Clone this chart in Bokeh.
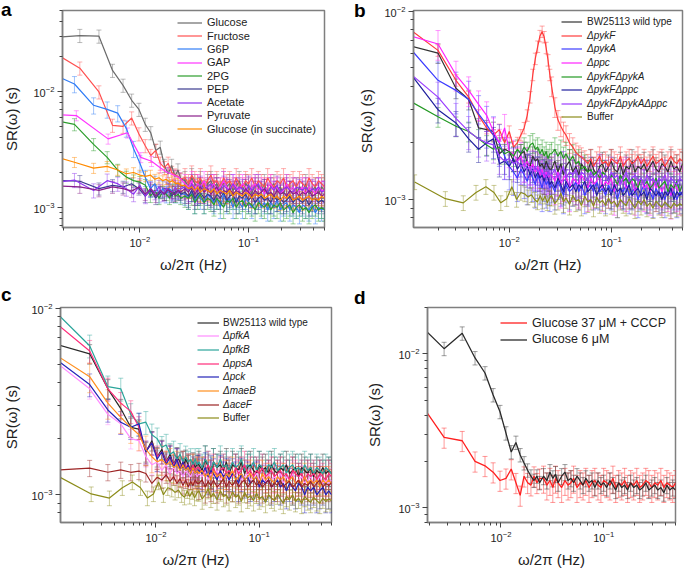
import numpy as np
from bokeh.plotting import figure
from bokeh.models import (ColumnDataSource, Whisker, TeeHead, Legend, LegendItem,
                          Range1d, FixedTicker, Div)
from bokeh.layouts import row, column
from bokeh.embed import file_html
from bokeh.resources import INLINE

FONT = "Liberation Sans"

# ---------------- frequency grids (Hz) ----------------
F14 = [0.0014, 0.0028, 0.0042, 0.0056, 0.0070, 0.0084, 0.0098, 0.0112, 0.0126,
       0.0140, 0.0154, 0.0168, 0.0182, 0.0196, 0.0210, 0.0224, 0.0238]
F125 = [0.00125, 0.0025, 0.00375, 0.0050, 0.00625, 0.0075, 0.00875, 0.0100, 0.01125,
        0.0125, 0.01375, 0.0150, 0.01625, 0.0175, 0.01875, 0.0200, 0.02125, 0.0225, 0.02375]
F256 = [0.0013, 0.0026, 0.0051, 0.0077, 0.0102, 0.0128, 0.0154, 0.0179, 0.0205, 0.0230]
F10 = [0.001, 0.002, 0.003, 0.004, 0.005, 0.006, 0.007, 0.008, 0.009, 0.010, 0.011, 0.012,
       0.013, 0.014, 0.015, 0.016, 0.017, 0.018, 0.019, 0.020, 0.021, 0.022, 0.023, 0.024, 0.025]
F114 = [0.00114, 0.00228, 0.00342, 0.00456, 0.0057, 0.00684, 0.00798, 0.00912, 0.01026,
        0.0114, 0.01254, 0.01368, 0.01482, 0.01596, 0.0171, 0.01824, 0.01938, 0.02052,
        0.02166, 0.0228, 0.02394, 0.02508]
BUF_F = [0.00118, 0.00236, 0.00354, 0.00472, 0.0059, 0.00708, 0.00826, 0.00944, 0.0106,
         0.0118, 0.0130, 0.0142, 0.0153, 0.0165, 0.0177, 0.0189, 0.0201, 0.0212, 0.0224,
         0.0236, 0.0248]
BAND_F = [0.026, 0.028, 0.030, 0.032, 0.034, 0.036, 0.039, 0.042, 0.045,
          0.048, 0.051, 0.055, 0.059, 0.063, 0.067, 0.072, 0.077, 0.082,
          0.088, 0.094, 0.100, 0.107, 0.115, 0.123, 0.131, 0.140, 0.150,
          0.160, 0.171, 0.183, 0.196, 0.210, 0.224, 0.240, 0.257, 0.275,
          0.294, 0.314, 0.336, 0.360, 0.385, 0.412, 0.440, 0.470, 0.500]

# axis tick positions (powers of ten and their 2..9 multiples)
MAJOR_TICKS = [1e-4, 1e-3, 1e-2, 1e-1, 1.0]
MINOR_TICKS = [m * 10.0 ** e for e in range(-4, 0) for m in range(2, 10)]

# ---------------- panel a values (ms) ----------------
A_LABELS = ["Glucose", "Fructose", "G6P", "GAP", "2PG", "PEP", "Acetate", "Pyruvate",
            "Glucose (in succinate)"]
GLU_LO = [29.0, 30.4, 30.0, 15.2, 11.3, 8.4, 7.0, 5.2, 4.4, 3.1, 3.3, 2.3, 1.95, 2.3, 1.85, 2.1, 1.75]
FRU_LO = [23.5, 15.9, 9.9, 5.1, 5.0, 5.9, 4.3, 3.4, 2.8, 3.1, 2.4, 2.2, 2.4, 2.0, 1.9, 1.85, 1.75]
G6P_LO = [15.5, 11.6, 7.6, 7.0, 6.5, 4.8, 3.2, 2.4, 1.8, 1.45, 1.6, 1.3, 1.45, 1.3, 1.45, 1.35, 1.3, 1.4, 1.3]
GAP_LO = [6.4, 6.2, 3.9, 4.4, 2.7, 2.5, 2.2, 2.0, 1.9, 1.8]
PG2_LO = [5.9, 5.2, 3.5, 2.7, 2.1, 1.83, 1.7, 1.65, 1.55, 1.25, 1.4, 1.2, 1.35, 1.3, 1.2, 1.4, 1.25, 1.3, 1.2]
PEP_LO = [1.72, 1.68, 1.45, 1.55, 1.5, 1.6, 1.45, 1.25, 1.4, 1.2, 1.35, 1.3, 1.45, 1.25, 1.35, 1.4, 1.3]
ACE_LO = [1.58, 1.72, 1.4, 1.7, 1.6, 1.45, 1.3, 1.55, 1.25, 1.45, 1.35, 1.5, 1.3, 1.45, 1.4, 1.35, 1.5, 1.35, 1.45]
PYR_LO = [1.55, 1.5, 1.4, 1.5, 1.45, 1.38, 1.5, 1.3, 1.45, 1.25, 1.4, 1.3, 1.42, 1.35, 1.28, 1.4, 1.35]
SUC_LO = [2.95, 2.45, 2.18, 2.26, 2.1, 1.95, 2.0, 1.9, 1.85, 1.9, 1.75, 1.8, 1.7, 1.75, 1.65, 1.7, 1.6, 1.62, 1.55]

GLU_HI = [1.7, 1.5, 1.8, 1.6, 1.5, 1.7, 1.4, 1.6, 1.7, 1.5, 1.6, 1.4, 1.7, 1.5, 1.6, 1.4, 1.5, 1.7,
          1.4, 1.6, 1.5, 1.3, 1.6, 1.5, 1.4, 1.6, 1.3, 1.5, 1.6, 1.4, 1.5, 1.3, 1.6, 1.4, 1.5, 1.3,
          1.5, 1.4, 1.6, 1.3, 1.4, 1.5, 1.3, 1.5, 1.4]
FRU_HI = [1.8, 1.6, 1.9, 1.7, 1.6, 1.8, 1.5, 1.7, 1.9, 1.6, 1.7, 1.5, 1.8, 1.6, 1.7, 1.5, 1.8, 1.6,
          1.5, 1.7, 1.6, 1.8, 1.5, 1.7, 1.6, 1.5, 1.8, 1.6, 1.5, 1.7, 1.6, 1.8, 1.5, 1.6, 1.7, 1.5,
          1.7, 1.6, 1.5, 1.8, 1.6, 1.5, 1.7, 1.6, 1.5]
G6P_HI = [1.3, 1.2, 1.4, 1.1, 1.3, 1.2, 1.1, 1.3, 1.2, 1.1, 1.2, 1.0, 1.3, 1.1, 1.2, 1.0, 1.2, 1.1,
          1.0, 1.2, 1.1, 1.0, 1.1, 1.2, 1.0, 1.1, 0.95, 1.1, 1.0, 1.15, 0.95, 1.05, 1.1, 0.95, 1.05, 1.0,
          0.9, 1.05, 1.0, 0.95, 1.05, 0.9, 1.0, 0.95, 1.0]
GAP_HI = [1.6, 1.5, 1.7, 1.4, 1.6, 1.5, 1.7, 1.4, 1.5, 1.6, 1.4, 1.5, 1.7, 1.5, 1.4, 1.6, 1.5, 1.4,
          1.6, 1.5, 1.3, 1.5, 1.6, 1.4, 1.5, 1.3, 1.5, 1.6, 1.4, 1.5, 1.3, 1.4, 1.6, 1.4, 1.5, 1.3,
          1.4, 1.5, 1.3, 1.5, 1.4, 1.3, 1.5, 1.4, 1.4]
PG2_HI = [1.25, 1.2, 1.3, 1.1, 1.2, 1.3, 1.1, 1.2, 1.15, 1.05, 1.2, 1.1, 1.0, 1.15, 1.1, 1.2, 1.0, 1.1,
          1.15, 1.0, 1.1, 1.05, 0.95, 1.1, 1.05, 1.0, 1.1, 0.95, 1.05, 1.0, 1.1, 0.95, 1.0, 1.05, 0.9, 1.0,
          1.05, 0.95, 1.0, 0.9, 1.0, 1.05, 0.95, 1.0, 0.95]
PEP_HI = [1.35, 1.25, 1.4, 1.2, 1.3, 1.35, 1.2, 1.3, 1.25, 1.15, 1.3, 1.2, 1.35, 1.15, 1.25, 1.3, 1.1, 1.25,
          1.2, 1.3, 1.15, 1.25, 1.1, 1.2, 1.25, 1.15, 1.2, 1.1, 1.25, 1.15, 1.2, 1.1, 1.15, 1.25, 1.1, 1.2,
          1.15, 1.1, 1.2, 1.05, 1.15, 1.2, 1.1, 1.15, 1.1]
ACE_HI = [1.5, 1.4, 1.6, 1.45, 1.35, 1.55, 1.4, 1.5, 1.6, 1.4, 1.5, 1.35, 1.55, 1.45, 1.4, 1.6, 1.4, 1.5,
          1.45, 1.35, 1.55, 1.4, 1.5, 1.6, 1.4, 1.45, 1.35, 1.5, 1.4, 1.55, 1.35, 1.45, 1.5, 1.4, 1.35, 1.5,
          1.45, 1.4, 1.5, 1.35, 1.45, 1.4, 1.5, 1.35, 1.4]
PYR_HI = [1.45, 1.35, 1.5, 1.3, 1.4, 1.5, 1.35, 1.45, 1.3, 1.4, 1.5, 1.3, 1.4, 1.35, 1.45, 1.3, 1.4, 1.35,
          1.3, 1.45, 1.35, 1.25, 1.4, 1.3, 1.35, 1.45, 1.3, 1.35, 1.25, 1.4, 1.3, 1.35, 1.25, 1.4, 1.3, 1.35,
          1.25, 1.35, 1.3, 1.4, 1.25, 1.3, 1.35, 1.25, 1.3]
SUC_HI = [1.55, 1.45, 1.5, 1.4, 1.5, 1.35, 1.45, 1.4, 1.35, 1.45, 1.3, 1.4, 1.35, 1.3, 1.4, 1.25, 1.35, 1.3,
          1.25, 1.35, 1.3, 1.2, 1.3, 1.25, 1.3, 1.2, 1.25, 1.3, 1.2, 1.25, 1.15, 1.25, 1.2, 1.3, 1.15, 1.2,
          1.25, 1.15, 1.2, 1.25, 1.15, 1.2, 1.15, 1.25, 1.2]

# ---------------- panel b values (ms) ----------------
B_LABELS = ["BW25113 wild type", "\u0394pykF", "\u0394pykA", "\u0394ppc", "\u0394pykF\u0394pykA",
            "\u0394pykF\u0394ppc", "\u0394pykF\u0394pykA\u0394ppc", "Buffer"]
WT_B_LO = [6.6, 6.0, 3.9, 3.4, 2.4, 2.35, 2.3, 1.75, 1.85, 1.8, 1.6, 1.6, 1.75, 1.8, 1.55, 1.5, 1.7, 1.6,
           1.65, 1.5, 1.55, 1.45, 1.6, 1.5, 1.45]
PYKF_B_LO = [8.2, 6.2, 4.3, 3.5, 2.8, 2.4, 2.2, 2.35, 2.0, 2.3, 1.9, 2.0, 2.2, 2.4, 2.8, 3.5, 4.6, 5.6,
             6.5, 7.4, 7.8, 7.3, 6.4, 5.5, 4.6]
PYKA_B_LO = [6.6, 4.3, 3.8, 3.4, 2.85, 2.5, 2.2, 2.0, 1.7, 1.5, 1.4, 1.3, 1.45, 1.35, 1.25, 1.4, 1.3, 1.2,
             1.35, 1.25, 1.15, 1.3, 1.2, 1.25, 1.15]
PPC_B_LO = [7.5, 6.7, 4.6, 3.8, 3.2, 2.8, 2.3, 2.0, 2.4, 1.8, 1.75, 1.6, 1.7, 1.5, 1.6, 1.45, 1.55, 1.4,
            1.5, 1.35, 1.45, 1.3, 1.4, 1.3, 1.35]
PFA_B_LO = [3.4, 2.75, 2.45, 2.3, 2.1, 1.95, 1.85, 1.9, 1.75, 1.8, 1.7, 1.85, 1.75, 1.9, 1.8, 1.95, 2.0,
            1.85, 1.9, 1.75, 1.85, 1.7, 1.8, 1.65, 1.75]
PFP_B_LO = [4.9, 3.0, 2.55, 2.1, 1.85, 2.0, 2.1, 1.55, 1.6, 1.5, 1.65, 1.45, 1.55, 1.4, 1.5, 1.35, 1.45,
            1.3, 1.4, 1.3, 1.35, 1.25, 1.35, 1.3, 1.2]
TRI_B_LO = [4.8, 3.5, 2.7, 2.3, 2.1, 2.0, 1.95, 1.7, 1.6, 1.65, 1.55, 1.6, 1.5, 1.55, 1.45, 1.5, 1.4,
            1.5, 1.4, 1.45, 1.35, 1.4, 1.3, 1.4, 1.35]
BUF_LO = [1.24, 1.01, 0.96, 1.09, 1.17, 1.09, 0.96, 1.01, 1.17, 1.0, 1.09, 1.07, 1.03, 1.06, 1.0, 0.97,
          1.05, 0.98, 1.04, 0.96, 1.02]

WT_B_HI = [1.45, 1.6, 1.4, 1.55, 1.35, 1.5, 1.6, 1.4, 1.5, 1.35, 1.55, 1.45, 1.4, 1.6, 1.45, 1.35, 1.5, 1.55,
           1.4, 1.5, 1.6, 1.45, 1.4, 1.55, 1.35, 1.5, 1.45, 1.6, 1.4, 1.5, 1.45, 1.55, 1.4, 1.5, 1.6, 1.45,
           1.4, 1.55, 1.5, 1.4, 1.6, 1.45, 1.5, 1.4, 1.55]
PYKF_B_HI = [4.0, 3.1, 2.65, 2.45, 2.3, 2.2, 2.0, 1.9, 1.78, 1.72, 1.68, 1.62, 1.55, 1.65, 1.5, 1.6, 1.7, 1.55,
             1.6, 1.5, 1.65, 1.6, 1.55, 1.7, 1.5, 1.6, 1.65, 1.55, 1.6, 1.7, 1.55, 1.65, 1.5, 1.6, 1.7, 1.55,
             1.6, 1.65, 1.5, 1.6, 1.7, 1.6, 1.55, 1.65, 1.6]
PYKA_B_HI = [1.2, 1.1, 1.25, 1.15, 1.05, 1.2, 1.1, 1.15, 1.25, 1.1, 1.2, 1.05, 1.15, 1.2, 1.1, 1.25, 1.1, 1.15,
             1.05, 1.2, 1.1, 1.15, 1.0, 1.15, 1.1, 1.2, 1.05, 1.1, 1.15, 1.0, 1.1, 1.2, 1.05, 1.1, 1.0, 1.15,
             1.05, 1.1, 1.0, 1.15, 1.05, 1.1, 1.0, 1.1, 1.05]
PPC_B_HI = [1.35, 1.25, 1.4, 1.2, 1.3, 1.35, 1.15, 1.3, 1.25, 1.2, 1.35, 1.25, 1.15, 1.3, 1.2, 1.25, 1.35, 1.15,
            1.25, 1.2, 1.3, 1.1, 1.25, 1.2, 1.3, 1.15, 1.2, 1.25, 1.1, 1.2, 1.3, 1.15, 1.2, 1.1, 1.25, 1.15,
            1.2, 1.1, 1.2, 1.15, 1.05, 1.2, 1.15, 1.1, 1.2]
PFA_B_HI = [1.75, 1.85, 1.7, 1.8, 1.65, 1.75, 1.6, 1.7, 1.55, 1.6, 1.45, 1.5, 1.4, 1.45, 1.35, 1.4, 1.3, 1.4,
            1.35, 1.25, 1.35, 1.3, 1.2, 1.35, 1.25, 1.3, 1.2, 1.3, 1.25, 1.15, 1.3, 1.2, 1.25, 1.15, 1.2, 1.3,
            1.15, 1.2, 1.25, 1.1, 1.2, 1.15, 1.25, 1.1, 1.2]
PFP_B_HI = [1.25, 1.15, 1.3, 1.2, 1.1, 1.25, 1.15, 1.2, 1.1, 1.2, 1.15, 1.25, 1.1, 1.15, 1.2, 1.05, 1.15, 1.2,
            1.1, 1.15, 1.05, 1.2, 1.1, 1.15, 1.05, 1.1, 1.2, 1.05, 1.1, 1.15, 1.05, 1.1, 1.0, 1.15, 1.1, 1.05,
            1.1, 1.0, 1.1, 1.05, 1.15, 1.0, 1.1, 1.05, 1.1]
TRI_B_HI = [1.35, 1.45, 1.3, 1.4, 1.5, 1.3, 1.4, 1.35, 1.45, 1.3, 1.4, 1.35, 1.25, 1.4, 1.3, 1.35, 1.45, 1.3,
            1.35, 1.25, 1.4, 1.3, 1.35, 1.2, 1.3, 1.4, 1.25, 1.3, 1.35, 1.25, 1.3, 1.2, 1.35, 1.25, 1.3, 1.2,
            1.3, 1.25, 1.35, 1.2, 1.3, 1.25, 1.2, 1.3, 1.25]
BUF_HI = [1.05, 0.95, 1.0, 1.08, 0.97, 1.02, 0.94, 1.05, 0.98, 1.0, 0.93, 1.04, 0.97, 1.0, 0.92, 1.03, 0.96, 0.99,
          0.93, 1.02, 0.95, 0.98, 0.91, 1.0, 0.96, 0.93, 1.01, 0.95, 0.9, 0.98, 0.94, 1.0, 0.92, 0.96, 0.9, 0.98,
          0.94, 0.91, 0.97, 0.93, 0.9, 0.96, 0.92, 0.95, 0.93]

# ---------------- panel c values (ms) ----------------
C_LABELS = ["BW25113 wild type", "\u0394pfkA", "\u0394pfkB", "\u0394ppsA", "\u0394pck",
            "\u0394maeB", "\u0394aceF", "Buffer"]
WT_C_LO = [6.35, 5.7, 3.7, 2.9, 2.3, 2.25, 1.7, 1.95, 1.6, 1.75, 1.5, 1.65, 1.45, 1.6, 1.5, 1.4, 1.55, 1.45,
           1.35, 1.5, 1.4, 1.45]
PFKA_C_LO = [5.0, 3.7, 2.7, 2.4, 2.0, 1.95, 1.6, 1.45, 1.5, 1.35, 1.45, 1.3, 1.4, 1.3, 1.35, 1.25, 1.35, 1.3,
             1.25, 1.35, 1.3, 1.25]
PFKB_C_LO = [9.2, 6.3, 3.8, 3.7, 2.7, 2.4, 2.45, 2.1, 2.0, 1.8, 1.85, 1.65, 1.7, 1.55, 1.65, 1.5, 1.6, 1.5,
             1.55, 1.45, 1.55, 1.45]
PPSA_C_LO = [8.1, 5.9, 3.7, 3.1, 2.8, 2.3, 1.7, 1.9, 1.6, 1.7, 1.5, 1.6, 1.45, 1.55, 1.4, 1.5, 1.4, 1.45,
             1.35, 1.45, 1.35, 1.4]
PCK_C_LO = [5.2, 3.9, 2.85, 2.45, 2.3, 2.4, 1.7, 1.9, 1.55, 1.7, 1.45, 1.6, 1.4, 1.55, 1.35, 1.5, 1.35, 1.45,
            1.3, 1.4, 1.3, 1.35]
MAEB_C_LO = [5.5, 4.3, 3.1, 2.6, 2.3, 2.1, 1.75, 1.6, 1.5, 1.55, 1.45, 1.5, 1.4, 1.45, 1.35, 1.45, 1.35, 1.4,
             1.3, 1.4, 1.3, 1.35]
ACEF_C_LO = [1.36, 1.39, 1.32, 1.36, 1.32, 1.34, 1.3, 1.15, 1.24, 1.2, 1.28, 1.18, 1.25, 1.15, 1.22, 1.12, 1.2,
             1.1, 1.18, 1.12, 1.2, 1.15]

WT_C_HI = [1.45, 1.35, 1.55, 1.4, 1.3, 1.5, 1.4, 1.45, 1.35, 1.5, 1.3, 1.45, 1.4, 1.35, 1.5, 1.3, 1.4, 1.45,
           1.35, 1.3, 1.45, 1.35, 1.4, 1.3, 1.45, 1.35, 1.3, 1.4, 1.35, 1.45, 1.3, 1.35, 1.4, 1.25, 1.4, 1.35,
           1.3, 1.4, 1.25, 1.35, 1.3, 1.4, 1.3, 1.35, 1.3]
PFKA_C_HI = [1.3, 1.25, 1.35, 1.2, 1.3, 1.25, 1.35, 1.2, 1.3, 1.25, 1.2, 1.3, 1.25, 1.35, 1.2, 1.25, 1.3, 1.2,
             1.25, 1.3, 1.2, 1.25, 1.15, 1.3, 1.2, 1.25, 1.2, 1.3, 1.15, 1.25, 1.2, 1.3, 1.15, 1.2, 1.25, 1.15,
             1.2, 1.25, 1.15, 1.2, 1.25, 1.15, 1.2, 1.15, 1.2]
PFKB_C_HI = [1.5, 1.4, 1.55, 1.45, 1.35, 1.5, 1.4, 1.55, 1.4, 1.45, 1.35, 1.5, 1.4, 1.45, 1.55, 1.35, 1.45, 1.4,
             1.5, 1.35, 1.45, 1.4, 1.3, 1.45, 1.4, 1.5, 1.35, 1.4, 1.45, 1.3, 1.4, 1.45, 1.35, 1.4, 1.3, 1.45,
             1.35, 1.4, 1.3, 1.4, 1.35, 1.3, 1.4, 1.35, 1.3]
PPSA_C_HI = [1.4, 1.3, 1.35, 1.45, 1.3, 1.4, 1.25, 1.35, 1.4, 1.3, 1.35, 1.25, 1.4, 1.3, 1.35, 1.45, 1.3, 1.35,
             1.25, 1.35, 1.3, 1.4, 1.25, 1.3, 1.35, 1.25, 1.3, 1.35, 1.25, 1.3, 1.2, 1.35, 1.3, 1.25, 1.3, 1.2,
             1.3, 1.25, 1.3, 1.2, 1.3, 1.25, 1.2, 1.3, 1.25]
PCK_C_HI = [1.35, 1.3, 1.4, 1.25, 1.35, 1.3, 1.2, 1.35, 1.25, 1.3, 1.2, 1.3, 1.25, 1.15, 1.3, 1.2, 1.25, 1.15,
            1.2, 1.25, 1.1, 1.2, 1.15, 1.2, 1.1, 1.15, 1.2, 1.1, 1.15, 1.05, 1.15, 1.1, 1.05, 1.15, 1.1, 1.0,
            1.1, 1.05, 1.1, 1.0, 1.05, 1.1, 1.0, 1.05, 1.0]
MAEB_C_HI = [1.3, 1.35, 1.25, 1.3, 1.2, 1.35, 1.25, 1.3, 1.2, 1.3, 1.25, 1.35, 1.2, 1.25, 1.3, 1.2, 1.25, 1.3,
             1.2, 1.25, 1.15, 1.3, 1.2, 1.25, 1.2, 1.15, 1.25, 1.2, 1.25, 1.15, 1.2, 1.25, 1.15, 1.2, 1.15, 1.25,
             1.15, 1.2, 1.15, 1.2, 1.1, 1.2, 1.15, 1.2, 1.15]
ACEF_C_HI = [1.15, 1.2, 1.1, 1.18, 1.12, 1.2, 1.1, 1.15, 1.22, 1.1, 1.18, 1.12, 1.2, 1.1, 1.16, 1.2, 1.1, 1.15,
             1.2, 1.12, 1.18, 1.1, 1.15, 1.2, 1.1, 1.16, 1.12, 1.2, 1.1, 1.15, 1.18, 1.1, 1.14, 1.2, 1.1, 1.15,
             1.12, 1.18, 1.1, 1.15, 1.2, 1.1, 1.15, 1.12, 1.16]

# ---------------- panel d values (ms) ----------------
D_LABELS = ["Glucose 37 \u03bcM + CCCP", "Glucose 6 \u03bcM"]
CCCP_D_LO = [5.6, 2.86, 2.72, 2.0, 1.87, 1.7, 1.5, 1.55, 1.78, 1.45, 1.2, 1.6, 1.45, 1.4, 1.6, 1.45, 1.55]
G6_D_LO = [17.0, 10.8, 13.6, 9.4, 7.5, 5.4, 4.2, 3.05, 2.3, 2.65, 2.2, 1.95, 1.75, 1.6, 1.5, 1.6, 1.45]
CCCP_D_HI = [1.55, 1.4, 1.5, 1.35, 1.55, 1.45, 1.35, 1.5, 1.4, 1.45, 1.55, 1.35, 1.45, 1.4, 1.5, 1.35, 1.45, 1.5,
             1.4, 1.35, 1.5, 1.45, 1.4, 1.55, 1.35, 1.45, 1.4, 1.5, 1.35, 1.45, 1.4, 1.5, 1.35, 1.4, 1.5, 1.45,
             1.35, 1.45, 1.4, 1.5, 1.35, 1.45, 1.4, 1.35, 1.45]
G6_D_HI = [1.6, 1.5, 1.7, 1.55, 1.65, 1.45, 1.6, 1.7, 1.5, 1.55, 1.45, 1.6, 1.5, 1.4, 1.55, 1.45, 1.5, 1.35,
           1.5, 1.4, 1.45, 1.35, 1.5, 1.4, 1.3, 1.45, 1.35, 1.4, 1.3, 1.45, 1.35, 1.4, 1.3, 1.35, 1.45, 1.3,
           1.35, 1.4, 1.3, 1.35, 1.25, 1.4, 1.3, 1.35, 1.3]


def make_fig(w, h, xr, yr, bl, br, bt, bb, ylabel, ylab_standoff):
    p = figure(width=w, height=h, x_axis_type="log", y_axis_type="log",
               x_range=Range1d(*xr), y_range=Range1d(*yr),
               output_backend="svg", toolbar_location=None,
               min_border_left=bl, min_border_right=br, min_border_top=bt, min_border_bottom=bb)
    p.background_fill_color = "white"
    p.border_fill_color = "white"
    p.outline_line_color = "#7f7f7f"
    p.outline_line_width = 1.5
    p.xgrid.visible = False
    p.ygrid.visible = False
    for ax in (p.xaxis[0], p.yaxis[0]):
        ax.ticker = FixedTicker(ticks=MAJOR_TICKS, minor_ticks=MINOR_TICKS)
        ax.axis_line_color = "#7f7f7f"
        ax.axis_line_width = 1.5
        ax.major_tick_line_color = "#444444"
        ax.minor_tick_line_color = "#444444"
        ax.major_tick_in = 0
        ax.major_tick_out = 5
        ax.minor_tick_in = 0
        ax.minor_tick_out = 3
        ax.major_label_text_font = FONT
        ax.major_label_text_font_size = "11px"
        ax.major_label_text_color = "#222222"
        ax.major_label_standoff = 3
        ax.axis_label_text_font = FONT
        ax.axis_label_text_font_size = "15px"
        ax.axis_label_text_font_style = "normal"
        ax.axis_label_text_color = "#222222"
    p.xaxis.axis_label = "\u03c9/2\u03c0 (Hz)"
    p.xaxis.axis_label_standoff = 6
    p.yaxis.axis_label = ylabel
    p.yaxis.axis_label_standoff = ylab_standoff
    return p


def add_series(p, f_lo, s_lo, s_hi, color, err, lw=1.2):
    n_lo = min(len(f_lo), len(s_lo))
    n_hi = min(len(s_hi), len(BAND_F))
    f = np.array(list(f_lo[:n_lo]) + BAND_F[len(BAND_F) - n_hi:], dtype=float)
    s = np.array(list(s_lo[:n_lo]) + list(s_hi[len(s_hi) - n_hi:]), dtype=float) * 1e-3
    e = np.array([err[0]] * n_lo + [err[1]] * n_hi)
    xr = (p.x_range.start, p.x_range.end)
    m = (f >= xr[0]) & (f <= xr[1])
    src = ColumnDataSource(dict(x=f[m], lo=(s * (1 - e))[m], hi=(s * (1 + e))[m]))
    head = dict(size=5, line_color=color, line_alpha=0.45, line_width=1)
    p.add_layout(Whisker(source=src, base="x", lower="lo", upper="hi", dimension="height",
                         line_color=color, line_alpha=0.45, line_width=1,
                         upper_head=TeeHead(**head), lower_head=TeeHead(**head)))
    return p.line(f, s, line_color=color, line_width=lw)


def add_legend(p, rends, labels, styles, x0, y0, dy, size, gw, standoff, frame_h, ih=13):
    for i, (r, lab, st) in enumerate(zip(rends, labels, styles)):
        yc = y0 + i * dy
        lg = Legend(items=[LegendItem(label=lab, renderers=[r])],
                    location=(x0, frame_h - yc - ih / 2), orientation="vertical",
                    border_line_alpha=0, background_fill_alpha=0, padding=0, margin=0, spacing=0,
                    glyph_width=gw, glyph_height=ih, label_height=ih, label_width=10,
                    label_standoff=standoff, label_text_font=FONT, label_text_font_size=size,
                    label_text_font_style=st, label_text_color="#222222")
        p.add_layout(lg)


def letter_div(txt, left, top):
    # panel letter floating over the page (taken out of the layout flow)
    return Div(text=txt, width=16, height=20,
               styles={"position": "absolute", "left": f"{left}px", "top": f"{top}px",
                       "z-index": "10", "margin": "0", "padding": "0",
                       "font-family": FONT, "font-size": "19px", "font-weight": "bold",
                       "line-height": "19px", "color": "black"})


# ---------------- panel a ----------------
pa = make_fig(340, 286, (0.00194, 0.5), (0.00067, 0.05), 57, 16, 10, 59, "SR(\u03c9) (s)", 10)
A_SERIES = [
    (F14, GLU_LO, GLU_HI, "#6b6b6b", (0.13, 0.2)),
    (F14, FRU_LO, FRU_HI, "#ff5050", (0.13, 0.2)),
    (F125, G6P_LO, G6P_HI, "#2f7cf6", (0.16, 0.2)),
    (F256, GAP_LO, GAP_HI, "#ff33ff", (0.1, 0.2)),
    (F125, PG2_LO, PG2_HI, "#2a9d2a", (0.12, 0.2)),
    (F14, PEP_LO, PEP_HI, "#3a3a8f", (0.12, 0.2)),
    (F125, ACE_LO, ACE_HI, "#8f35f0", (0.14, 0.2)),
    (F14, PYR_LO, PYR_HI, "#8a1f8a", (0.12, 0.2)),
    (F125, SUC_LO, SUC_HI, "#ff8a00", (0.1, 0.18)),
]
ra = [add_series(pa, *s) for s in A_SERIES]
add_legend(pa, ra, A_LABELS, ["normal"] * 9, 115, 12.3, 13.3, "11px", 25, 5, 217)

# ---------------- panel b ----------------
pb = make_fig(344, 286, (0.00115, 0.5), (0.00071, 0.0101), 73, 2, 10, 59, "SR(\u03c9)  (s)", 6)
B_SERIES = [
    (F10, WT_B_LO, WT_B_HI, "#333333", (0.12, 0.15)),
    (F10, PYKF_B_LO, PYKF_B_HI, "#ff3b3b", (0.07, 0.12)),
    (F10, PYKA_B_LO, PYKA_B_HI, "#3b3bff", (0.25, 0.2)),
    (F10, PPC_B_LO, PPC_B_HI, "#ff22ff", (0.18, 0.25)),
    (F10, PFA_B_LO, PFA_B_HI, "#229922", (0.12, 0.15)),
    (F10, PFP_B_LO, PFP_B_HI, "#1f1f9e", (0.15, 0.15)),
    (F10, TRI_B_LO, TRI_B_HI, "#9a3cff", (0.2, 0.2)),
    (BUF_F, BUF_LO, BUF_HI, "#8c8c1a", (0.09, 0.12)),
]
rb = [add_series(pb, *s) for s in B_SERIES]
add_legend(pb, rb, B_LABELS, ["normal"] + ["italic"] * 6 + ["normal"],
           148, 11.7, 13.6, "10px", 21, 5, 217)

# ---------------- panel c ----------------
pc = make_fig(340, 284, (0.00119, 0.5), (0.00071, 0.0101), 59, 9, 21, 45, "SR(\u03c9)  (s)", 8)
C_SERIES = [
    (F114, WT_C_LO, WT_C_HI, "#2a2a2a", (0.12, 0.18)),
    (F114, PFKA_C_LO, PFKA_C_HI, "#ff8cff", (0.12, 0.15)),
    (F114, PFKB_C_LO, PFKB_C_HI, "#2aa59a", (0.14, 0.18)),
    (F114, PPSA_C_LO, PPSA_C_HI, "#ff2b7a", (0.14, 0.18)),
    (F114, PCK_C_LO, PCK_C_HI, "#2323b8", (0.14, 0.2)),
    (F114, MAEB_C_LO, MAEB_C_HI, "#ff8f1f", (0.18, 0.18)),
    (F114, ACEF_C_LO, ACEF_C_HI, "#9c2323", (0.1, 0.18)),
    (BUF_F, BUF_LO, BUF_HI, "#8c8c1a", (0.09, 0.12)),
]
rc = [add_series(pc, *s) for s in C_SERIES]
add_legend(pc, rc, C_LABELS, ["normal"] + ["italic"] * 6 + ["normal"],
           137, 18, 13.7, "10px", 22, 4, 218)

# ---------------- panel d ----------------
pd_ = make_fig(344, 284, (0.00193, 0.5), (0.0008, 0.02), 87, 9, 20, 46, "SR(\u03c9) (s)", 12)
D_SERIES = [
    (F14, CCCP_D_LO, CCCP_D_HI, "#ff1f1f", (0.15, 0.2)),
    (F14, G6_D_LO, G6_D_HI, "#2a2a2a", (0.1, 0.12)),
]
rd = [add_series(pd_, *s, lw=1.3) for s in D_SERIES]
add_legend(pd_, rd, D_LABELS, ["normal", "normal"], 73, 18.6, 16.7, "12.5px", 27, 5, 218, ih=15)

layout = column(letter_div("a", 1, 0), letter_div("b", 354, 1),
                letter_div("c", 1, 285), letter_div("d", 354, 288),
                row(pa, pb), row(pc, pd_))
open("out.html", "w").write(file_html(layout, INLINE))
